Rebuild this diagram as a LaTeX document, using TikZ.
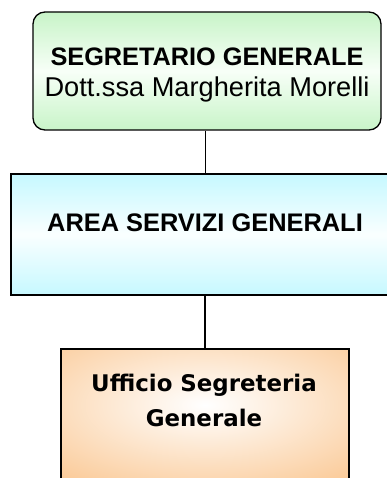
\documentclass[tikz,border=0pt]{standalone}
\usepackage{fontspec}
\setmainfont{Liberation Sans}
\newfontfamily\dejavu{DejaVu Sans}
\definecolor{grn}{HTML}{C8F4C8}
\definecolor{cyn}{HTML}{C6F8FF}
\definecolor{pch}{HTML}{FAC690}
\tikzset{
  box/.style={draw=black, line width=1.3pt, minimum width=#1, inner sep=0pt},
  conn/.style={draw=black, line width=1.1pt},
  lbl/.style={align=center, inner sep=0pt, text=black}
}
\begin{document}
\begin{tikzpicture}[x=1pt,y=-1pt]
\useasboundingbox (0,0) rectangle (387,478);
\clip (0,0) rectangle (387,478);
% top box
\node[box=348pt, minimum height=118pt, rounded corners=12pt,
  top color=grn, bottom color=grn, middle color=green!3!white] (top) at (207,71) {};
\node[lbl, font=\fontsize{25.3}{31}\selectfont] (toptext) at (207,74.5)
  {\textbf{SEGRETARIO GENERALE}\\\fontsize{27.2}{31}\selectfont Dott.ssa Margherita Morelli};
% middle box
\node[box=389pt, minimum height=121pt,
  top color=cyn, bottom color=cyn, middle color=cyan!2!white] (mid) at (205.5,234.5) {};
\node[lbl, font=\bfseries\fontsize{25.4}{30}\selectfont] (midtext) at (205,223) {AREA SERVIZI GENERALI};
% bottom box
\node[box=288pt, minimum height=160pt, fill=pch,
  path picture={\shade[inner color=white, outer color=pch]
    ([yshift=24pt]path picture bounding box.center) ellipse [x radius=240pt, y radius=105pt];}] (bot) at (205,429) {};
\node[lbl, font=\dejavu\bfseries\fontsize{22.9}{35}\selectfont] (bottext) at (204,400)
  {Ufficio Segreteria\\Generale};
% connectors
\draw[conn] (top.south -| mid.north) -- (mid.north);
\draw[conn] (mid.south -| bot.north) -- (bot.north);
\end{tikzpicture}
\end{document}
